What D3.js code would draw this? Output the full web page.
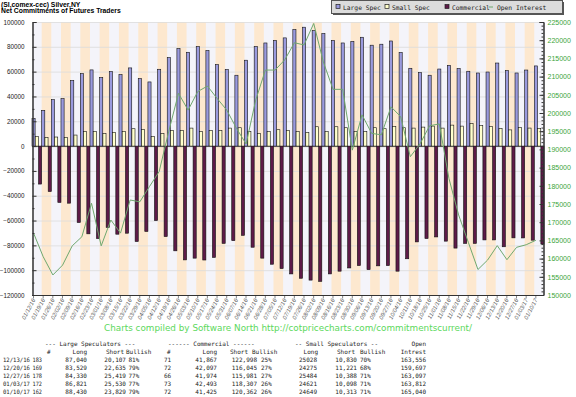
<!DOCTYPE html>
<html>
<head>
<meta charset="utf-8">
<script src="https://d3js.org/d3.v7.min.js"></script>
<style>
	body { margin: 0; background: #fff; }
	svg { display: block; }
</style>
</head>
<body>
<div id="chart"></div>
<script>
// Silver COT net positions, weekly

var dates = ["01/12/16","01/19/16","01/26/16","02/02/16","02/09/16","02/16/16","02/23/16","03/01/16","03/08/16","03/15/16",
	"03/22/16","03/29/16","04/05/16","04/12/16","04/19/16","04/26/16","05/03/16","05/10/16","05/17/16","05/24/16",
	"05/31/16","06/07/16","06/14/16","06/21/16","06/28/16","07/05/16","07/12/16","07/19/16","07/26/16","08/02/16",
	"08/09/16","08/16/16","08/23/16","08/30/16","09/06/16","09/13/16","09/20/16","09/27/16","10/04/16","10/11/16",
	"10/18/16","10/25/16","11/01/16","11/08/16","11/15/16","11/22/16","11/29/16","12/06/16","12/13/16","12/20/16",
	"12/27/16","01/03/17","01/10/17"];

var largeSpec = [22100,28800,37400,38200,52800,58400,61400,55200,60000,57600,
	63000,54400,51700,61900,71300,78600,75600,80200,77000,65700,
	61700,57100,69200,80200,83100,85100,87200,93900,95800,93100,
	90700,85100,83100,84300,87700,81300,82100,84700,75400,62700,
	59200,57100,62100,65100,62500,60300,58900,59700,66933,60894,
	58911,61291,64601];

var smallSpec = [7800,6800,7300,7000,8900,11600,11900,10000,11100,11900,
	14000,13500,7800,10000,12700,12700,14500,11600,12700,12700,
	14500,14800,11900,10000,11600,13200,12700,11900,11100,15600,
	11900,15600,14800,11900,11600,14800,14000,15900,14800,14500,
	15300,16100,14500,16900,16100,18100,16700,15900,14198,13054,
	15096,14523,14336];

var commercial = [-30600,-36600,-45400,-46000,-61600,-70700,-74500,-65600,-71000,-70200,
	-76900,-68800,-60000,-72900,-84400,-91700,-90300,-91800,-89700,-78400,
	-76200,-71900,-81500,-90300,-95200,-98700,-103000,-106500,-108000,-109000,
	-103000,-100800,-98200,-96300,-99600,-96500,-96300,-100800,-90800,-77200,
	-74500,-73200,-76600,-82200,-78400,-78400,-75600,-75600,-81131,-73948,
	-74007,-75814,-78937];

var openInterest = [167000,160500,155500,158200,163500,166000,175200,163500,170600,167000,
	176100,175600,179800,183900,195000,205400,200800,205900,207400,204000,
	200800,195800,191500,203600,211800,211800,214600,219300,218700,224600,
	214000,206500,206500,189800,199500,194400,194000,201700,199000,188000,
	191500,196500,197000,182000,172000,164500,157000,159600,163556,159697,
	163097,163812,165040];

var leftTicks = [100000,80000,60000,40000,20000,0,-20000,-40000,-60000,-80000,-100000,-120000];
var rightTicks = [225000,220000,215000,210000,205000,200000,195000,190000,185000,180000,175000,170000,165000,160000,155000,150000];

// table under the chart
var tableDates = ["12/13/16","12/20/16","12/27/16","01/03/17","01/10/17"];
var lsCount = [183,169,178,172,162];
var lsLong = [87040,83529,84330,86821,88430];
var lsShort = [20107,22635,25419,25530,23829];
var lsBull = [81,79,77,77,79];
var cmCount = [71,72,66,73,72];
var cmLong = [41867,42097,41974,42493,41425];
var cmShort = [122998,116045,115981,118307,120362];
var cmBull = [25,27,27,26,26];
var ssLong = [25028,24275,25484,24621,24649];
var ssShort = [10830,11221,10388,10098,10313];
var ssBull = [70,68,71,71,71];
var oiTotal = [163556,159697,163097,163812,165040];

var width = 576;
var height = 397;

var svg = d3.select("#chart")
	.append("svg")
		.attr("width", width)
		.attr("height", height);

var x = d3.scaleBand().domain(dates).range([32, 544]);
var sub = d3.scaleBand().domain(["ls", "ss", "cm"]).range([0, x.bandwidth()]).paddingInner(0.04);
var y = d3.scaleLinear().domain([-120000, 100000]).range([295, 22]);
var y2 = d3.scaleLinear().domain([150000, 225000]).range([295, 22]);

// stripes
svg.append("g").selectAll("rect")
	.data(dates)
	.enter().append("rect")
		.attr("x", function(d) { return x(d); })
		.attr("y", y(100000))
		.attr("width", x.bandwidth() + 0.5)
		.attr("height", y(-120000) - y(100000))
		.attr("fill", function(d, i) { return i % 2 ? "#fde8cf" : "#f4f4fa"; });

// grid
svg.append("g").selectAll("line")
	.data(leftTicks)
	.enter().append("line")
		.attr("x1", 32).attr("x2", 544)
		.attr("y1", function(d) { return y(d) + 0.5; })
		.attr("y2", function(d) { return y(d) + 0.5; })
		.attr("stroke", function(d) { return d === 0 ? "#555" : "#dcdcdc"; })
		.attr("stroke-width", 0.8);

function bars(values, key, fill) {
	svg.append("g").selectAll("rect")
		.data(values)
		.enter().append("rect")
			.attr("x", function(d, i) { return x(dates[i]) + sub(key); })
			.attr("y", function(d) { return y(Math.max(d, 0)); })
			.attr("width", sub.bandwidth())
			.attr("height", function(d) { return Math.abs(y(d) - y(0)); })
			.attr("fill", fill)
			.attr("stroke", "#111")
			.attr("stroke-width", 0.6);
}

bars(largeSpec, "ls", "#9a9ade");
bars(smallSpec, "ss", "#ffffcc");
bars(commercial, "cm", "#5e1a48");

// open interest
var line = d3.line()
	.x(function(d, i) { return x(dates[i]) + sub("ls") + sub.bandwidth() / 2; })
	.y(function(d) { return y2(d); });

svg.append("path")
	.datum(openInterest)
	.attr("d", line)
	.attr("fill", "none")
	.attr("stroke", "#6fa86f")
	.attr("stroke-width", 1);

// left axis
var leftAxis = svg.append("g")
	.attr("transform", "translate(32.5,0)")
	.call(d3.axisLeft(y).tickValues(leftTicks).tickSize(-4).tickPadding(8).tickFormat(d3.format("d")));
svg.append("g")
	.attr("transform", "translate(32.5,0)")
	.call(d3.axisLeft(y).tickValues(d3.range(-110000, 100000, 20000)).tickSize(-2).tickFormat(""));
leftAxis.selectAll("text").attr("font-family", "Liberation Sans, Arial").attr("font-size", "6.3px").attr("fill", "#222");

// right axis
var rightAxis = svg.append("g")
	.attr("transform", "translate(543.5,0)")
	.call(d3.axisRight(y2).tickValues(rightTicks).tickSize(-4).tickPadding(4).tickFormat(d3.format("d")));
svg.append("g")
	.attr("transform", "translate(543.5,0)")
	.call(d3.axisRight(y2).tickValues(d3.range(151000, 225000, 1000)).tickSize(-2).tickFormat(""));
rightAxis.selectAll("text").attr("font-family", "Liberation Sans, Arial").attr("font-size", "7px").attr("fill", "#3aa53a");

svg.selectAll(".domain").attr("stroke", "#333");
svg.selectAll(".tick line").attr("stroke", "#333");

// bottom axis
svg.append("line")
	.attr("x1", 32).attr("x2", 544)
	.attr("y1", 295.5).attr("y2", 295.5)
	.attr("stroke", "#333");

svg.append("g").selectAll("line")
	.data(dates)
	.enter().append("line")
		.attr("x1", function(d) { return x(d) + 1.5; })
		.attr("x2", function(d) { return x(d) + 1.5; })
		.attr("y1", 295.5).attr("y2", 298.5)
		.attr("stroke", "#333")
		.attr("stroke-width", 0.6);

svg.append("g").selectAll("text")
	.data(dates)
	.enter().append("text")
		.attr("transform", function(d) { return "translate(" + (x(d) + 3.5) + ",300) rotate(-62)"; })
		.attr("text-anchor", "end")
		.attr("font-family", "Liberation Sans, Arial")
		.attr("font-size", "5.8px")
		.attr("font-style", "italic")
		.attr("fill", "#555")
		.text(function(d) { return d; });

// title
svg.append("text")
	.attr("x", 1).attr("y", 6.5)
	.attr("font-family", "Liberation Sans, Arial")
	.attr("font-size", "6.8px")
	.attr("font-weight", "bold")
	.text("(SI,comex-cec) Silver,NY");
svg.append("text")
	.attr("x", 1).attr("y", 13)
	.attr("font-family", "Liberation Sans, Arial")
	.attr("font-size", "6.8px")
	.attr("font-weight", "bold")
	.text("Net Commitments of Futures Traders");

// legend
var legend = svg.append("g");
legend.append("rect")
	.attr("x", 333).attr("y", 2).attr("width", 231).attr("height", 13)
	.attr("fill", "#555");
legend.append("rect")
	.attr("x", 331.5).attr("y", 0.5).attr("width", 231).attr("height", 13)
	.attr("fill", "#dcdcdc")
	.attr("stroke", "#555");

var legendItems = [
	{ label: "Large Spec", fill: "#9a9ade", x: 336 },
	{ label: "Small Spec", fill: "#ffffcc", x: 385 },
	{ label: "Commercial", fill: "#5e1a48", x: 445 }
];
legend.selectAll(".sw")
	.data(legendItems)
	.enter().append("rect")
		.attr("x", function(d) { return d.x; })
		.attr("y", 4.5)
		.attr("width", 4).attr("height", 4)
		.attr("fill", function(d) { return d.fill; })
		.attr("stroke", "#222")
		.attr("stroke-width", 0.7);
legend.selectAll(".lt")
	.data(legendItems)
	.enter().append("text")
		.attr("x", function(d) { return d.x + 7; })
		.attr("y", 9.5)
		.attr("font-family", "DejaVu Sans Mono")
		.attr("font-size", "6.3px")
		.attr("fill", "#222")
		.text(function(d) { return d.label; });
legend.append("line")
	.attr("x1", 489).attr("x2", 493)
	.attr("y1", 7).attr("y2", 7)
	.attr("stroke", "#6fa86f");
legend.append("text")
	.attr("x", 497).attr("y", 9.5)
	.attr("font-family", "DejaVu Sans Mono")
	.attr("font-size", "6.3px")
	.attr("fill", "#222")
	.text("Open Interest");

// credit line
svg.append("text")
	.attr("x", 104).attr("y", 331)
	.attr("font-family", "DejaVu Sans, Verdana")
	.attr("font-size", "9px")
	.attr("fill", "#5cd85c")
	.attr("textLength", 368)
	.attr("lengthAdjust", "spacingAndGlyphs")
	.text("Charts compiled by Software North  http://cotpricecharts.com/commitmentscurrent/");

// table
var table = svg.append("g")
	.attr("font-family", "DejaVu Sans Mono")
	.attr("font-size", "6px")
	.attr("fill", "#222");

function cell(txt, xx, row, anchor, len) {
	var t = table.append("text")
		.attr("x", xx)
		.attr("y", 345.5 + row * 8)
		.attr("text-anchor", anchor || "end")
		.text(txt);
	if (len) t.attr("textLength", len).attr("lengthAdjust", "spacingAndGlyphs");
}

cell("--- Large Speculators ---", 45, 0, "start");
cell("------ Commercial ------", 168, 0, "start");
cell("-- Small Speculators --", 295, 0, "start");
cell("Open", 426, 0);

cell("#", 47, 1, "start");
cell("Long", 87, 1);
cell("Short", 124, 1);
cell("Bullish", 126, 1, "start");
cell("#", 167, 1, "start");
cell("Long", 217, 1);
cell("Short", 248, 1);
cell("Bullish", 252, 1, "start");
cell("Long", 318, 1);
cell("Short", 355, 1);
cell("Bullish", 360, 1, "start");
cell("Intrest", 426, 1);

var comma = d3.format(",");
tableDates.forEach(function(d, i) {
	var r = i + 2;
	cell(d, 3, r, "start", 27);
	cell(lsCount[i], 42, r, "end", 9.5);
	cell(comma(lsLong[i]), 87, r);
	cell(comma(lsShort[i]), 126, r);
	cell(lsBull[i] + "%", 128.5, r, "start");
	cell(cmCount[i], 164, r, "start");
	cell(comma(cmLong[i]), 217, r);
	cell(comma(cmShort[i]), 257, r);
	cell(cmBull[i] + "%", 261, r, "start");
	cell(ssLong[i], 317, r);
	cell(comma(ssShort[i]), 357, r);
	cell(ssBull[i] + "%", 360, r, "start");
	cell(comma(oiTotal[i]), 426, r);
});
</script>
</body>
</html>
